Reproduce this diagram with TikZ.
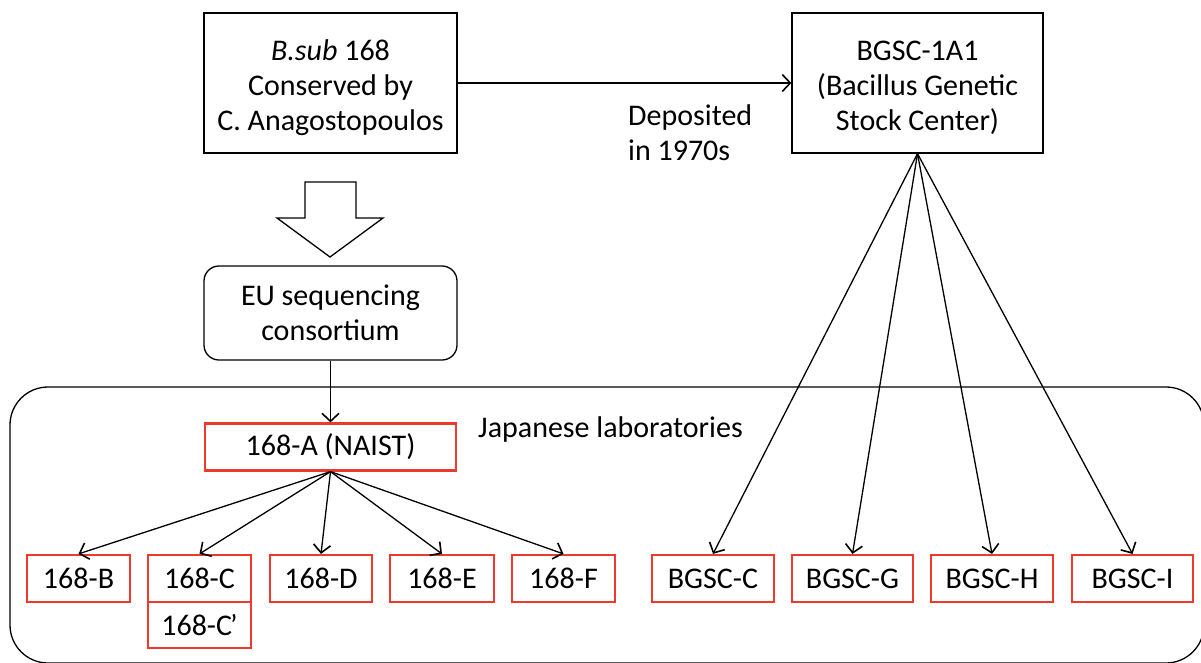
\documentclass[tikz,border=0pt]{standalone}
\usepackage{fontspec}
\setmainfont{Carlito}
\usetikzlibrary{arrows.meta}
\definecolor{boxred}{RGB}{238,58,45}
\begin{document}
\begin{tikzpicture}[x=1pt,y=-1pt,
  every node/.style={font=\fontsize{30}{35}\selectfont, inner sep=0pt},
  blackbox/.style={draw=black, line width=1.3pt, align=center},
  redbox/.style={draw=boxred, line width=2.2pt, minimum height=47pt},
  conn/.style={line width=1.3pt, -{Straight Barb[length=8pt,width=17pt,line width=1.6pt]}}]
\useasboundingbox (0,0) rectangle (1201,662);
\clip (0,0) rectangle (1201,662);
% container
\draw[line width=1.3pt, rounded corners=38pt] (10,387) rectangle (1204,663);
\node[anchor=base west] (jl) at (478,437) {Japanese laboratories};
% top boxes
\node[blackbox, minimum width=253pt, minimum height=140pt] (bsub) at (330.5,83)
  {\rule{0pt}{31pt}\textit{B.sub} 168\\Conserved by\\C. Anagostopoulos};
\node[blackbox, minimum width=251pt, minimum height=140pt] (bgsc) at (917.5,83)
  {\rule{0pt}{29pt}BGSC-1A1\\(Bacillus Genetic\\Stock Center)};
\node[anchor=north west, align=left] (dep) at (628,104) {Deposited\\in 1970s};
% big hollow arrow
\draw[line width=1.3pt, line join=miter] (305,182) -- (356,182) -- (356,218) -- (383,218)
  -- (330,257) -- (277,218) -- (305,218) -- cycle;
% EU
\node[blackbox, rounded corners=15pt, minimum width=253pt, minimum height=94pt] (eu) at (330.5,313)
  {EU sequencing\\consortium};
% Japanese boxes
\node[redbox, minimum width=251pt] (naist) at (330.5,447) {168-A (NAIST)};
\node[redbox, minimum width=103pt] (b) at (78.5,578.5) {168-B};
\node[redbox, minimum width=103pt] (c) at (199.5,578.5) {168-C};
\node[redbox, minimum width=103pt, minimum height=46pt] (cp) at (199.5,625) {168-C\kern-2pt’};
\node[redbox, minimum width=102pt] (d) at (321,578.5) {168-D};
\node[redbox, minimum width=104pt] (e) at (442,578.5) {168-E};
\node[redbox, minimum width=103pt] (f) at (563.5,578.5) {168-F};
% BGSC boxes
\node[redbox, minimum width=122pt] (bc) at (713,578.5) {BGSC-C};
\node[redbox, minimum width=121pt] (bg) at (852.5,578.5) {BGSC-G};
\node[redbox, minimum width=122pt] (bh) at (992,578.5) {BGSC-H};
\node[redbox, minimum width=121pt] (bi) at (1132.5,578.5) {BGSC-I};
% connectors
\draw[conn] (bsub.east) -- (bgsc.west);
\draw[conn] (eu.south) -- (naist.north);
\foreach \t in {b,c,d,e,f} \draw[conn] (naist.south) -- (\t.north);
\foreach \t in {bc,bg,bh,bi} \draw[conn] (bgsc.south) -- (\t.north);
\end{tikzpicture}
\end{document}
